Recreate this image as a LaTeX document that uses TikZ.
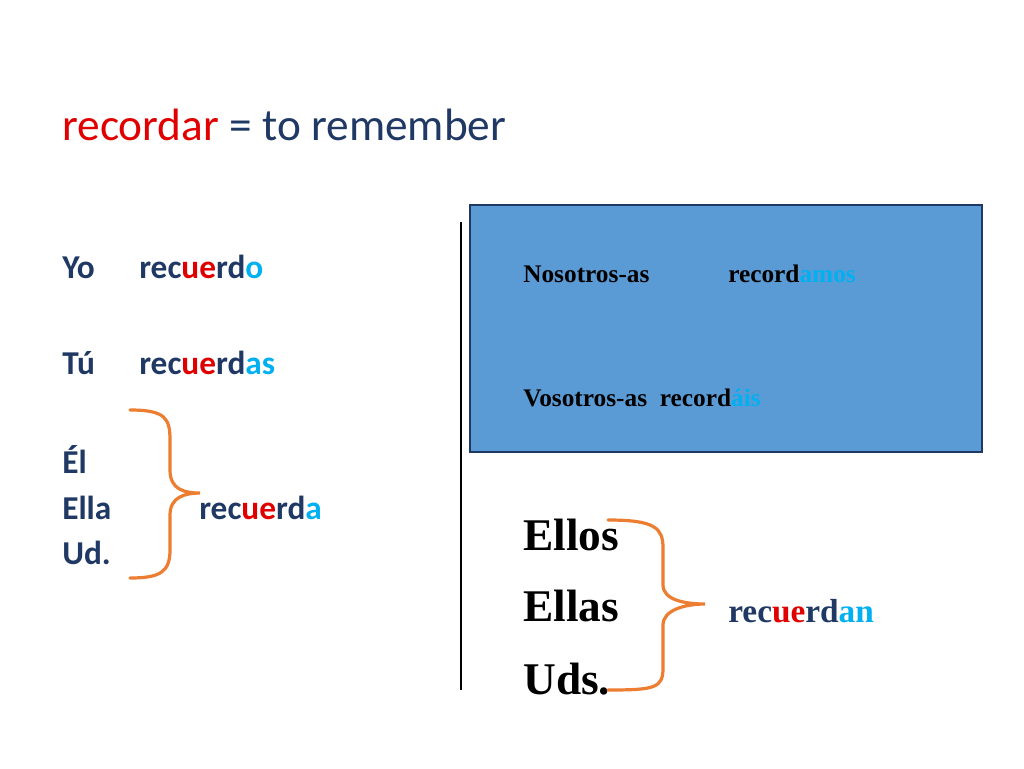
\documentclass[tikz,border=0pt]{standalone}
\usepackage{fontspec}
\setmainfont{Carlito}
\newfontfamily\tnr{Liberation Serif}
\definecolor{navy}{HTML}{1F3864}
\definecolor{redend}{HTML}{E00000}
\definecolor{cyanend}{HTML}{00B0F0}
\definecolor{boxblue}{HTML}{5B9BD5}
\definecolor{bracecol}{HTML}{ED7D31}
\newcommand{\stem}[3]{\textcolor{navy}{#1}\textcolor{redend}{#2}\textcolor{navy}{#3}}
\tikzset{
    lefttext/.style = {anchor=base west, inner sep=0pt, text=navy, font=\bfseries\fontsize{25}{28}\selectfont},
    righttext/.style = {anchor=base west, inner sep=0pt, text=black, font=\tnr\bfseries\fontsize{19}{22}\selectfont},
    bigtext/.style = {anchor=base west, inner sep=0pt, text=black, font=\tnr\bfseries\fontsize{34}{38}\selectfont},
    bracket/.style = {draw=bracecol, line width=2.4pt, line cap=round},
}
\begin{document}
\begin{tikzpicture}[x=0.75pt, y=-0.75pt]
\useasboundingbox (0,0) rectangle (1024,768);
% title
\node[lefttext, font=\fontsize{34}{38}\selectfont] (title) at (62,140)
    {\textcolor{redend}{recordar} = to remember};

% singular forms
\node[lefttext] (yo) at (62,278) {Yo};
\node[lefttext] (yoverb) at (139,278) {\stem{rec}{ue}{rd}\textcolor{cyanend}{o}};
\node[lefttext] (tu) at (62,374) {Tú};
\node[lefttext] (tuverb) at (139,374) {\stem{rec}{ue}{rd}\textcolor{cyanend}{as}};
\node[lefttext] (el) at (62,473) {Él};
\node[lefttext] (ella) at (62,519) {Ella};
\node[lefttext] (ud) at (62,564) {Ud.};
\node[lefttext] (ellaverb) at (199,519) {\stem{rec}{ue}{rd}\textcolor{cyanend}{a}};
\draw[bracket] (130,410) .. controls (165,410) and (170,418) .. (170,440)
    -- (170,470) .. controls (170,490) and (185,493) .. (200,493)
    .. controls (185,493) and (170,497) .. (170,515)
    -- (170,550) .. controls (170,572) and (160,578) .. (130,578);

% divider
\draw[line width=1pt] (461,222) -- (461,690);

% plural box
\node[draw=navy, fill=boxblue, line width=1pt, minimum width=512*0.75pt,
    minimum height=247*0.75pt, inner sep=0pt] (pbox) at (726,328.5) {};
\node[righttext] (nos) at (523,282) {Nosotros-as};
\node[righttext] (nosverb) at (728,282) {record\textcolor{cyanend}{amos}};
\node[righttext] (vos) at (523,406) {Vosotros-as\ \ record\textcolor{cyanend}{áis}};

% third person plural
\node[bigtext] (ellos) at (523,550) {Ellos};
\node[bigtext] (ellas) at (523,621) {Ellas};
\node[bigtext] (uds) at (523,694) {Uds.};
\node[righttext, font=\tnr\bfseries\fontsize{25}{28}\selectfont] (ellasverb) at (728,622)
    {\textcolor{navy}{rec}\textcolor{redend}{ue}\textcolor{navy}{rd}\textcolor{cyanend}{an}};
\draw[bracket] (608,520) .. controls (655,520) and (663,528) .. (663,548)
    -- (663,585) .. controls (663,600) and (685,604) .. (705,604)
    .. controls (685,604) and (663,610) .. (663,625)
    -- (663,668) .. controls (663,688) and (655,690) .. (608,690);
\end{tikzpicture}
\end{document}
